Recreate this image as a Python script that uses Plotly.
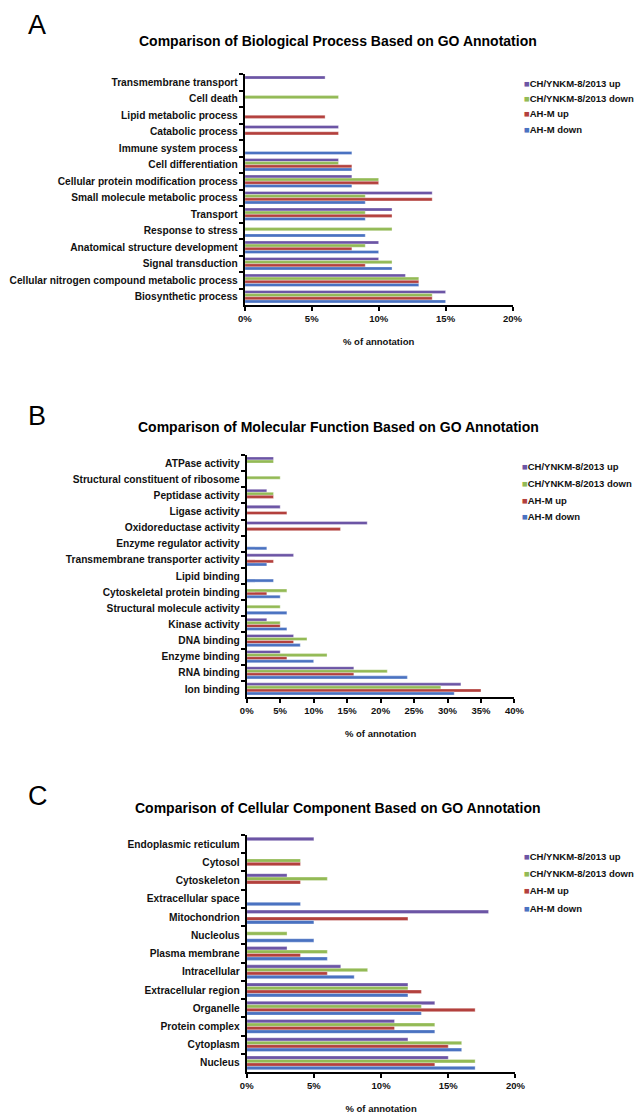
import plotly.graph_objects as go

W, H = 644, 1112

SERIES = ["CH/YNKM-8/2013 up", "CH/YNKM-8/2013 down", "AH-M up", "AH-M down"]
COLORS = ["#6C55A5", "#93BA55", "#B3403D", "#4A72C1"]

# ---------------- Panel A: Biological Process ----------------
bp_categories = [
    "Transmembrane transport", "Cell death", "Lipid metabolic process",
    "Catabolic process", "Immune system process", "Cell differentiation",
    "Cellular protein modification process", "Small molecule metabolic process",
    "Transport", "Response to stress", "Anatomical structure development",
    "Signal transduction", "Cellular nitrogen compound metabolic process",
    "Biosynthetic process",
]
bp_ch_up = [6, 0, 0, 7, 0, 7, 8, 14, 11, 0, 10, 10, 12, 15]
bp_ch_down = [0, 7, 0, 0, 0, 7, 10, 9, 9, 11, 9, 11, 13, 14]
bp_ah_up = [0, 0, 6, 7, 0, 8, 10, 14, 11, 0, 8, 9, 13, 14]
bp_ah_down = [0, 0, 0, 0, 8, 8, 8, 9, 9, 9, 10, 11, 13, 15]

# ---------------- Panel B: Molecular Function ----------------
mf_categories = [
    "ATPase activity", "Structural constituent of ribosome", "Peptidase activity",
    "Ligase activity", "Oxidoreductase activity", "Enzyme regulator activity",
    "Transmembrane transporter activity", "Lipid binding",
    "Cytoskeletal protein binding", "Structural molecule activity",
    "Kinase activity", "DNA binding", "Enzyme binding", "RNA binding", "Ion binding",
]
mf_ch_up = [4, 0, 3, 5, 18, 0, 7, 0, 0, 0, 3, 7, 5, 16, 32]
mf_ch_down = [4, 5, 4, 0, 0, 0, 0, 0, 6, 5, 5, 9, 12, 21, 29]
mf_ah_up = [0, 0, 4, 6, 14, 0, 4, 0, 3, 0, 5, 7, 6, 16, 35]
mf_ah_down = [0, 0, 0, 0, 0, 3, 3, 4, 5, 6, 6, 8, 10, 24, 31]

# ---------------- Panel C: Cellular Component ----------------
cc_categories = [
    "Endoplasmic reticulum", "Cytosol", "Cytoskeleton", "Extracellular space",
    "Mitochondrion", "Nucleolus", "Plasma membrane", "Intracellular",
    "Extracellular region", "Organelle", "Protein complex", "Cytoplasm", "Nucleus",
]
cc_ch_up = [5, 0, 3, 0, 18, 0, 3, 7, 12, 14, 11, 12, 15]
cc_ch_down = [0, 4, 6, 0, 0, 3, 6, 9, 12, 13, 14, 16, 17]
cc_ah_up = [0, 4, 4, 0, 12, 0, 4, 6, 13, 17, 11, 15, 14]
cc_ah_down = [0, 0, 0, 4, 5, 5, 6, 8, 12, 13, 14, 16, 17]

x_tick_step = 5
x_title = "% of annotation"

panels = [
    dict(letter="A", title="Comparison of Biological Process Based on GO Annotation",
         cats=bp_categories, series=[bp_ch_up, bp_ch_down, bp_ah_up, bp_ah_down],
         xmax=20, box=(236, 66, 511, 297), title_y=33, letter_y=17, legend_y=75,
         legend_x=521, legend_step=15.5),
    dict(letter="B", title="Comparison of Molecular Function Based on GO Annotation",
         cats=mf_categories, series=[mf_ch_up, mf_ch_down, mf_ah_up, mf_ah_down],
         xmax=40, box=(238, 447, 513, 689), title_y=419, letter_y=408, legend_y=458,
         legend_x=519, legend_step=17),
    dict(letter="C", title="Comparison of Cellular Component Based on GO Annotation",
         cats=cc_categories, series=[cc_ch_up, cc_ch_down, cc_ah_up, cc_ah_down],
         xmax=20, box=(238, 827, 514, 1064), title_y=800, letter_y=788, legend_y=848,
         legend_x=521, legend_step=17.5),
]

FONT = "Liberation Sans, Arial, sans-serif"


def fx(x):
    return x / W


def fy(y):
    return 1 - y / H


fig = go.Figure()
layout = dict(
    width=W, height=H, margin=dict(l=0, r=0, t=0, b=0),
    paper_bgcolor="white", plot_bgcolor="white",
    barmode="group", bargap=0.24, bargroupgap=0.0,
    showlegend=False, font=dict(family=FONT, color="#111111"),
)
annotations = []

for i, p in enumerate(panels):
    n = "" if i == 0 else str(i + 1)
    xa, ya = "x" + n, "y" + n
    for s, (name, color, vals) in enumerate(zip(SERIES, COLORS, p["series"])):
        fig.add_trace(go.Bar(
            x=vals, y=p["cats"], orientation="h", name=name,
            marker=dict(color=color, line=dict(color="rgba(255,255,255,0.55)", width=0.6)),
            xaxis=xa, yaxis=ya, legendgroup=name, showlegend=False,
        ))
    x0, y0, x1, y1 = p["box"]
    layout["xaxis" + n] = dict(
        domain=[fx(x0), fx(x1)], anchor=ya, range=[0, p["xmax"]],
        dtick=x_tick_step, tick0=0, ticksuffix="%",
        showline=True, linecolor="black", linewidth=2,
        ticks="outside", ticklen=4, tickwidth=1.5, tickcolor="black",
        showgrid=False, zeroline=False,
        tickfont=dict(size=9.5, family=FONT, weight="bold", color="#111111"),
        title=dict(text=x_title, standoff=15,
                   font=dict(size=9.5, family=FONT, weight="bold", color="#111111")),
    )
    layout["yaxis" + n] = dict(
        domain=[fy(y1), fy(y0)], anchor=xa, type="category",
        autorange="reversed", tickson="boundaries",
        showline=True, linecolor="black", linewidth=2,
        ticks="outside", ticklen=4, tickwidth=1.5, tickcolor="black",
        showgrid=False, zeroline=False, ticklabelstandoff=3,
        tickfont=dict(size=10.2, family=FONT, weight="bold", color="#111111"),
    )
    annotations.append(dict(
        text=p["letter"], xref="paper", yref="paper", x=fx(11), y=fy(p["letter_y"]),
        xanchor="left", yanchor="middle", showarrow=False,
        font=dict(size=27, family=FONT, color="black"),
    ))
    annotations.append(dict(
        text=p["title"], xref="paper", yref="paper", x=fx(332), y=fy(p["title_y"]),
        xanchor="center", yanchor="middle", showarrow=False,
        font=dict(size=14, family=FONT, weight="bold", color="black"),
    ))
    for s, (name, color) in enumerate(zip(SERIES, COLORS)):
        annotations.append(dict(
            text='<span style="color:%s">■</span>%s' % (color, name),
            xref="paper", yref="paper", x=fx(p["legend_x"]),
            y=fy(p["legend_y"] + s * p["legend_step"]), xanchor="left", yanchor="middle",
            showarrow=False,
            font=dict(size=9.5, family=FONT, weight="bold", color="#111111"),
        ))

layout["annotations"] = annotations
fig.update_layout(**layout)
fig.write_html("out.html")
